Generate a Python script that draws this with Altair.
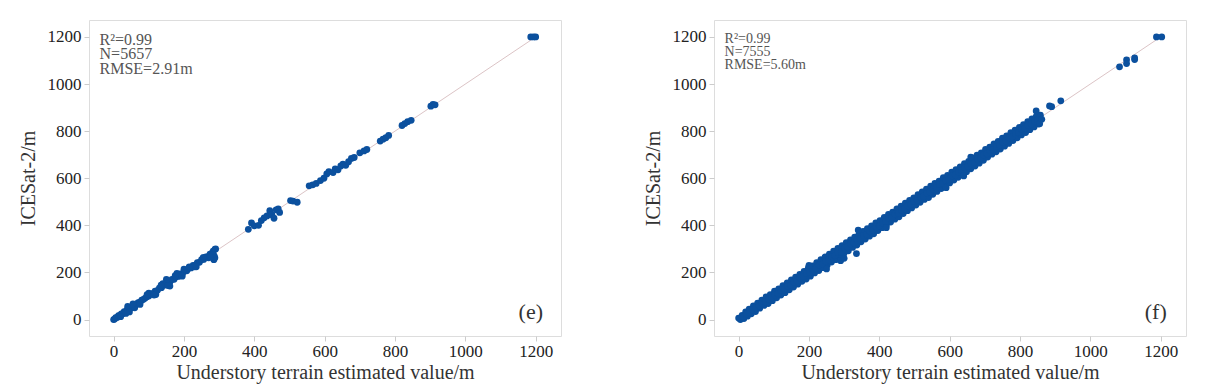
import altair as alt
import pandas as pd

# ---- panel (e) data ----
e_x = [0, 3, 6, 10, 14, 18, 22, 26, 30, 34, 38, 42, 46, 50, 55, 60, 65, 70, 75, 80,
       85, 90, 95, 100, 106, 112, 118, 124, 130, 136, 142, 148, 154, 160, 166, 172, 178,
       184, 190, 196, 202, 208, 214, 220, 226, 232, 238, 244, 250, 256, 262, 268, 274,
       280, 283, 286, 288, 290,
       40, 45, 150, 160, 180, 200, 140, 120, 285, 288, 282, 60, 100, 230, 270,
       20, 35, 55, 75, 95, 115, 135, 155, 175, 195, 215, 235, 255, 275,
       383, 392, 400, 412, 420, 428, 436, 444, 450, 456, 462, 468, 472,
       503, 510, 522, 556, 566, 576, 588, 598, 606, 612, 624, 630, 638, 646, 652, 660,
       668, 676, 684, 700, 712, 720, 758, 766, 774, 782, 820, 828, 836, 846,
       902, 908, 914, 1186, 1194, 1200]
e_y = [0, 2, 8, 9, 16, 17, 24, 25, 33, 32, 41, 44, 52, 49, 57, 62, 66, 72, 74, 82,
       86, 91, 97, 100, 108, 111, 120, 123, 133, 135, 146, 147, 158, 159, 170, 171, 182,
       183, 194, 195, 206, 207, 218, 219, 230, 231, 242, 243, 254, 255, 266, 267, 278,
       282, 290, 270, 298, 300,
       56, 32, 170, 142, 196, 214, 152, 106, 254, 262, 276, 50, 112, 224, 262,
       12, 26, 66, 64, 106, 104, 146, 144, 186, 184, 224, 224, 264, 266,
       383, 410, 398, 400, 420, 432, 440, 462, 445, 430, 466, 470, 455,
       505, 503, 498, 568, 572, 578, 590, 600, 618, 628, 624, 640, 636, 652, 660, 655,
       670, 684, 688, 708, 716, 722, 758, 766, 772, 782, 824, 832, 840, 846,
       906, 914, 912, 1200, 1200, 1200]

# ---- panel (f) data: dense band (upper / lower edges), middle row, outliers ----
f_x = [0, 5, 10, 15, 20, 25, 30, 36, 42, 48, 54, 60, 66, 72, 78, 84, 90, 96, 102, 108,
       114, 120, 126, 132, 138, 144, 150, 156, 162, 168, 174, 180, 186, 192, 198, 204,
       210, 216, 222, 228, 234, 240, 246, 252, 258, 264, 270, 276, 282, 288, 294, 300,
       306, 312, 318, 324, 330, 336, 342, 348, 354, 360, 366, 372, 378, 384, 390, 396,
       402, 408, 414, 420, 426, 432, 438, 444, 450, 456, 462, 468, 474, 480, 486, 492,
       498, 504, 510, 516, 522, 528, 534, 540, 546, 552, 558, 564, 570, 576, 582, 588,
       594, 600, 606, 612, 618, 624, 630, 636, 642, 648, 654, 660, 666, 672, 678, 684,
       690, 696, 702, 708, 714, 720, 726, 732, 738, 744, 750, 756, 762, 768, 774, 780,
       786, 792, 798, 804, 810, 816, 822, 828, 834, 840, 846, 852, 858,
       4, 13, 22, 31, 40, 49, 58, 67, 76, 85, 94, 103, 112, 121, 130, 139, 148, 157, 166,
       175, 184, 193, 202, 211, 220, 229, 238, 247, 256, 265, 274, 283, 292, 301, 310,
       319, 328, 337, 346, 355, 364, 373, 382, 391, 400, 409, 418, 427, 436, 445, 454,
       463, 472, 481, 490, 499, 508, 517, 526, 535, 544, 553, 562, 571, 580, 589, 598,
       607, 616, 625, 634, 643, 652, 661, 670, 679, 688, 697, 706, 715, 724, 733, 742,
       751, 760, 769, 778, 787, 796, 805, 814, 823, 832, 841, 850,
       335, 290, 300, 250, 420, 640, 660, 590, 200, 340, 846, 856, 862, 884, 890, 916,
       1083, 1103, 1103, 1126, 1126, 1188, 1203]
f_y = [6, 0, 18, 4, 32, 14, 44, 24, 58, 34, 70, 48, 82, 60, 96, 68, 106, 80, 120, 92,
       130, 104, 144, 114, 156, 126, 168, 138, 180, 150, 192, 162, 204, 172, 218, 184,
       228, 198, 242, 208, 254, 220, 266, 232, 278, 244, 290, 254, 302, 266, 314, 282,
       326, 292, 338, 306, 350, 316, 362, 330, 374, 342, 386, 354, 398, 364, 410, 378,
       420, 390, 434, 400, 446, 414, 456, 426, 470, 436, 482, 450, 494, 462, 506, 474,
       516, 486, 530, 498, 542, 510, 554, 518, 566, 532, 578, 544, 588, 556, 602, 568,
       612, 580, 626, 592, 636, 604, 648, 616, 662, 628, 672, 640, 686, 652, 698, 664,
       708, 676, 722, 690, 732, 702, 746, 712, 756, 724, 770, 736, 780, 748, 794, 760,
       804, 772, 816, 784, 828, 794, 840, 806, 852, 818, 862, 830, 868,
       5, 12, 24, 30, 41, 50, 57, 69, 75, 86, 93, 105, 111, 123, 129, 141, 146, 159, 165,
       177, 183, 195, 200, 213, 218, 231, 236, 249, 254, 267, 272, 285, 289, 303, 308,
       321, 326, 339, 344, 357, 362, 375, 380, 393, 398, 411, 416, 429, 434, 447, 452,
       465, 470, 483, 488, 501, 506, 519, 524, 537, 542, 555, 560, 573, 578, 591, 596,
       609, 614, 627, 632, 645, 650, 663, 668, 681, 686, 699, 704, 717, 722, 735, 740,
       753, 758, 771, 776, 789, 794, 807, 812, 825, 830, 843, 848,
       280, 250, 260, 215, 390, 610, 690, 560, 230, 380, 886, 831, 850, 907, 904, 929,
       1073, 1103, 1087, 1111, 1104, 1200, 1200]

line_x = [0, 1200]
line_y = [0, 1200]
ticks = [0, 200, 400, 600, 800, 1000, 1200]

stats_e = "R²=0.99\nN=5657\nRMSE=2.91m"
stats_f = "R²=0.99\nN=7555\nRMSE=5.60m"

DOM = [-70, 1272]
FONT = "Times New Roman, Liberation Serif, serif"


def panel(xs, ys, stats, tag, stat_size):
    pts = pd.DataFrame({"x": xs, "y": ys})
    ln = pd.DataFrame({"x": line_x, "y": line_y})
    xsc = alt.Scale(domain=DOM, nice=False, zero=False)
    ysc = alt.Scale(domain=DOM, nice=False, zero=False)
    xax = alt.Axis(values=ticks, format="d", title="Understory terrain estimated value/m",
                   grid=False, domain=False, tickColor="#cccccc", tickSize=5,
                   labelFontSize=17, labelColor="#222222", titleFontSize=20,
                   titleColor="#333333", titleFontWeight="normal", labelPadding=2,
                   titlePadding=3, labelFont=FONT, titleFont=FONT)
    yax = alt.Axis(values=ticks, format="d", title="ICESat-2/m", grid=False, domain=False,
                   tickColor="#cccccc", tickSize=5, labelFontSize=17, labelColor="#222222",
                   titleFontSize=20, titleColor="#333333", titleFontWeight="normal",
                   labelPadding=3, titlePadding=9, labelFont=FONT, titleFont=FONT)
    base_line = alt.Chart(ln).mark_line(color="#dcc4c6", strokeWidth=1).encode(
        x=alt.X("x:Q", scale=xsc, axis=xax), y=alt.Y("y:Q", scale=ysc, axis=yax))
    scat = alt.Chart(pts).mark_circle(size=46, color="#0b509e", opacity=1).encode(
        x=alt.X("x:Q", scale=xsc), y=alt.Y("y:Q", scale=ysc))
    st = alt.Chart(pd.DataFrame({"x": [-40], "y": [1222], "t": [stats]})).mark_text(
        align="left", baseline="top", font=FONT, fontSize=stat_size, color="#555555",
        lineBreak="\n", lineHeight=stat_size * 0.92).encode(
        x=alt.X("x:Q", scale=xsc), y=alt.Y("y:Q", scale=ysc), text="t:N")
    tg = alt.Chart(pd.DataFrame({"x": [1186], "y": [30], "t": [tag]})).mark_text(
        align="center", baseline="middle", font=FONT, fontSize=22, color="#333333").encode(
        x=alt.X("x:Q", scale=xsc), y=alt.Y("y:Q", scale=ysc), text="t:N")
    return alt.layer(base_line, scat, st, tg).properties(width=472, height=316)


left = panel(e_x, e_y, stats_e, "(e)", 16)
right = panel(f_x, f_y, stats_f, "(f)", 14)

chart = alt.hconcat(left, right, spacing=80).properties(
    padding={"left": 9, "top": 11, "right": 5, "bottom": 5}
).configure_view(stroke="#e8e8e8", strokeWidth=1).configure_axis(
    labelFont=FONT, titleFont=FONT).configure(background="white")

chart.save("out.html", embed_options={"renderer": "svg", "actions": False})
